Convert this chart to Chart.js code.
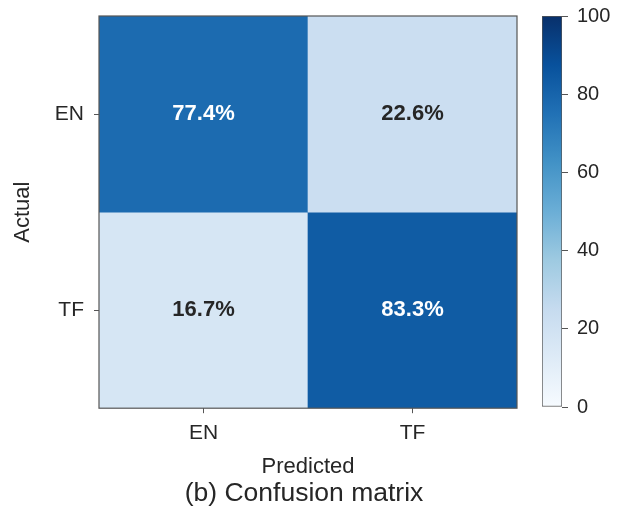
<!DOCTYPE html>
<html>
<head>
<meta charset="utf-8">
<script src="https://cdn.jsdelivr.net/npm/chart.js@4.4.0/dist/chart.umd.min.js"></script>
<style>
  html, body { margin: 0; padding: 0; background: #fff; }
  #wrap { position: relative; width: 618px; height: 516px; }
  #matrix { position: absolute; left: 0; top: 0; }
  #cbar { position: absolute; left: 530px; top: 0; }
</style>
</head>
<body>
<div id="wrap">
  <canvas id="matrix" width="608" height="516"></canvas>
  <canvas id="cbar" width="88" height="516"></canvas>
</div>
<script>
// rows = actual class, columns = predicted class (percent of row)
const classLabels = ['EN', 'TF'];
const rowEN = [77.4, 22.6];
const rowTF = [16.7, 83.3];
const colorbarTicks = [0, 20, 40, 60, 80, 100];
const bluesStops = ['#f7fbff', '#deebf7', '#c6dbef', '#9ecae1', '#6baed6', '#4292c6', '#2171b5', '#08519c', '#08306b'];

const rows = [rowEN, rowTF];
const FONT = '"Liberation Sans", Arial, sans-serif';
const TEXT = '#262626';
const EDGE = '#555555';

function hexToRgb(h) {
  return [1, 3, 5].map(i => parseInt(h.substr(i, 2), 16));
}
function blues(v) {
  const t = Math.min(Math.max(v / 100, 0), 1) * (bluesStops.length - 1);
  const i = Math.min(Math.floor(t), bluesStops.length - 2);
  const f = t - i;
  const a = hexToRgb(bluesStops[i]), b = hexToRgb(bluesStops[i + 1]);
  return 'rgb(' + a.map((c, k) => Math.round(c + (b[k] - c) * f)).join(',') + ')';
}

// no extra room around the plot for the tick labels
function noScalePadding(s) {
  s.paddingTop = 0;
  s.paddingBottom = 0;
  s.paddingLeft = 0;
  s.paddingRight = 0;
}

// first row is drawn at the top
const rowBase = r => rows.length - 1 - r;

const datasets = rows.map((vals, r) => ({
  data: vals.map((v, c) => ({ x: classLabels[c], y: [rowBase(r), rowBase(r) + 1] })),
  backgroundColor: vals.map(blues),
  borderWidth: 0,
  grouped: false,
  barPercentage: 1,
  categoryPercentage: 1
}));

const cellLabels = {
  id: 'cellLabels',
  afterDatasetsDraw(chart) {
    const { ctx, chartArea: a, scales: { x, y } } = chart;
    ctx.save();
    ctx.font = 'bold 22px ' + FONT;
    ctx.textAlign = 'center';
    ctx.textBaseline = 'middle';
    rows.forEach((vals, r) => {
      vals.forEach((v, c) => {
        ctx.fillStyle = v > 50 ? '#ffffff' : TEXT;
        ctx.fillText(v.toFixed(1) + '%', x.getPixelForValue(c), y.getPixelForValue(rowBase(r) + 0.5));
      });
    });
    ctx.strokeStyle = EDGE;
    ctx.lineWidth = 1.2;
    ctx.strokeRect(a.left, a.top, a.right - a.left, a.bottom - a.top);
    ctx.restore();
  }
};

const matrixChart = new Chart(document.getElementById('matrix'), {
  type: 'bar',
  data: { labels: classLabels, datasets: datasets },
  options: {
    responsive: false,
    animation: false,
    layout: { padding: { top: 16, right: 0, left: 0, bottom: 0 } },
    plugins: {
      legend: { display: false },
      tooltip: { enabled: false },
      title: {
        display: true,
        position: 'bottom',
        text: '(b) Confusion matrix',
        color: TEXT,
        font: { family: FONT, size: 26.5, weight: 'normal', lineHeight: 1.2 },
        padding: { top: 0, bottom: 6 }
      }
    },
    scales: {
      x: {
        type: 'category',
        offset: true,
        grid: { offset: false, drawOnChartArea: false, drawTicks: true, tickLength: 5, color: EDGE },
        border: { display: false },
        ticks: { color: TEXT, padding: 7, font: { family: FONT, size: 21 } },
        title: {
          display: true,
          text: 'Predicted',
          color: TEXT,
          font: { family: FONT, size: 22, lineHeight: 1 },
          padding: { top: 0, bottom: 0 }
        },
        afterFit: s => { s.height = 70; noScalePadding(s); }
      },
      y: {
        type: 'linear',
        min: 0,
        max: rows.length,
        afterBuildTicks: s => { s.ticks = rows.map((_, r) => ({ value: rowBase(r) + 0.5 })); },
        grid: { drawOnChartArea: false, drawTicks: true, tickLength: 5, color: EDGE },
        border: { display: false },
        ticks: {
          color: TEXT,
          padding: 10,
          font: { family: FONT, size: 21 },
          callback: v => classLabels[rows.length - 1 - Math.floor(v)]
        },
        title: {
          display: true,
          text: 'Actual',
          color: TEXT,
          font: { family: FONT, size: 22, lineHeight: 1.2 },
          padding: { top: 10, bottom: 0 }
        },
        afterFit: s => { s.width = 99; noScalePadding(s); }
      },
      // empty right-hand axis that leaves room for the colour bar
      gutter: {
        type: 'linear',
        position: 'right',
        display: true,
        ticks: { display: false },
        grid: { display: false },
        border: { display: false },
        afterFit: s => { s.width = 91; noScalePadding(s); }
      }
    }
  },
  plugins: [cellLabels]
});

// colour bar: one floating bar spanning 0..100 filled with the Blues ramp
const colorbarChart = new Chart(document.getElementById('cbar'), {
  type: 'bar',
  data: {
    labels: [''],
    datasets: [{
      data: [[colorbarTicks[0], colorbarTicks[colorbarTicks.length - 1]]],
      backgroundColor: ctx => {
        const area = ctx.chart.chartArea;
        if (!area) return bluesStops[0];
        const g = ctx.chart.ctx.createLinearGradient(0, area.bottom, 0, area.top);
        bluesStops.forEach((c, i) => g.addColorStop(i / (bluesStops.length - 1), c));
        return g;
      },
      borderColor: EDGE,
      borderWidth: 1,
      borderSkipped: false,
      barPercentage: 1,
      categoryPercentage: 1
    }]
  },
  options: {
    responsive: false,
    animation: false,
    layout: { padding: { top: 16, left: 12, right: 0, bottom: 109 } },
    plugins: { legend: { display: false }, tooltip: { enabled: false } },
    scales: {
      x: { display: false, afterFit: noScalePadding },
      y: {
        position: 'right',
        min: 0,
        max: 100,
        afterBuildTicks: s => { s.ticks = colorbarTicks.map(v => ({ value: v })); },
        grid: { drawOnChartArea: false, drawTicks: true, tickLength: 6, color: EDGE },
        border: { display: false },
        ticks: { color: TEXT, padding: 9, font: { family: FONT, size: 20 } },
        afterFit: s => { s.width = 56; noScalePadding(s); }
      }
    }
  }
});
</script>
</body>
</html>
